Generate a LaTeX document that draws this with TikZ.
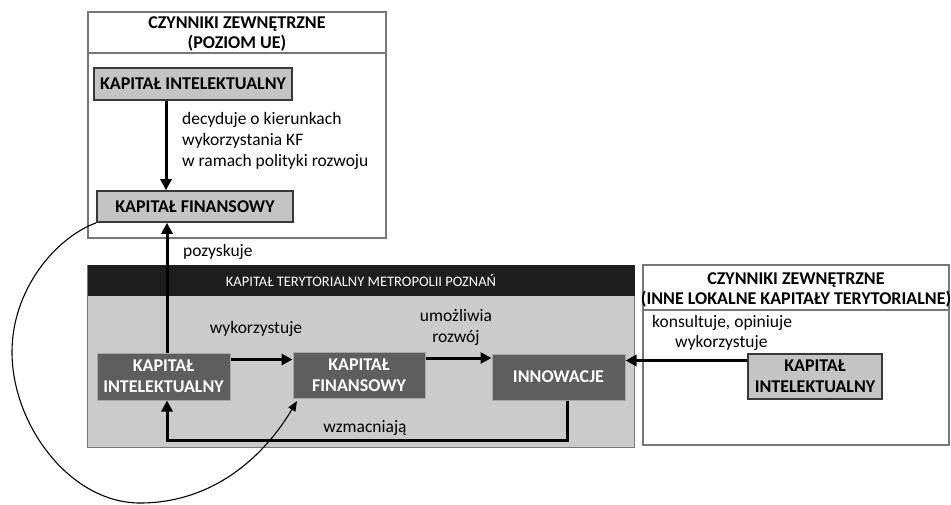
\documentclass[tikz,border=0pt]{standalone}
\usepackage{fontspec}
\setmainfont{Carlito}
\usetikzlibrary{arrows.meta,calc}
\definecolor{lightfill}{HTML}{C4C4C4}
\definecolor{mainfill}{HTML}{CBCBCB}
\definecolor{darkfill}{HTML}{5E5E5E}
\definecolor{bandfill}{HTML}{1E1E1E}
\definecolor{framecol}{HTML}{777777}
\begin{document}
\begin{tikzpicture}[x=1pt,y=-1pt,
  framebox/.style={draw=framecol, line width=1.3pt, inner sep=0pt},
  lightbox/.style={draw=black!78, line width=1.6pt, fill=lightfill, inner sep=0pt, align=center,
    font=\bfseries\fontsize{18}{21}\selectfont},
  darkbox/.style={draw=black!35, line width=1pt, fill=darkfill, text=white, inner sep=0pt, align=center,
    font=\bfseries\fontsize{18}{21}\selectfont},
  headtext/.style={inner sep=0pt, align=center, font=\bfseries\fontsize{18}{20}\selectfont},
  lbl/.style={inner sep=0pt, align=left, font=\fontsize{17.5}{21}\selectfont},
  arr/.style={line width=3pt, -{Triangle[length=11pt,width=11pt]}},
  thinarr/.style={line width=1.1pt, -{Triangle[length=10pt,width=8pt]}}]
\useasboundingbox (0,0) rectangle (951,504);
\fill[white] (0,0) rectangle (951,504);

% top frame (UE)
\node[framebox, minimum width=298pt, minimum height=226pt] (ueBox) at (237,125) {};
\node[framebox, minimum width=298pt, minimum height=41pt] (ueHead) at (237,32.5) {};
\node[headtext] (ueTitle) at (237,34) {CZYNNIKI ZEWNĘTRZNE\\(POZIOM UE)};

% main frame
\node[draw=framecol, line width=1pt, fill=mainfill, minimum width=547pt, minimum height=182pt] (mainBox) at (361,356) {};
\node[fill=bandfill, inner sep=0pt, minimum width=547pt, minimum height=31pt, text=white,
  font=\fontsize{14.5}{16}\selectfont] (mainHead) at (361,280.5) {KAPITAŁ TERYTORIALNY METROPOLII POZNAŃ};

% right frame
\node[framebox, minimum width=306pt, minimum height=180pt] (rightBox) at (796,355) {};
\node[framebox, minimum width=306pt, minimum height=45pt] (rightHead) at (796,287.5) {};
\node[headtext] (rightTitle) at (796,290) {CZYNNIKI ZEWNĘTRZNE\\(INNE LOKALNE KAPITAŁY TERYTORIALNE)};

% boxes
\node[lightbox, minimum width=198pt, minimum height=32pt] (kiTop) at (193,84) {KAPITAŁ INTELEKTUALNY};
\node[lightbox, minimum width=196pt, minimum height=31pt] (kfTop) at (195,206.5) {KAPITAŁ FINANSOWY};
\node[darkbox, minimum width=133pt, minimum height=47pt] (kiMain) at (163.5,376.5) {KAPITAŁ\\INTELEKTUALNY};
\node[darkbox, minimum width=132pt, minimum height=46pt] (kfMain) at (359,375) {KAPITAŁ\\FINANSOWY};
\node[darkbox, minimum width=133pt, minimum height=46pt] (inn) at (558.5,377) {INNOWACJE};
\node[lightbox, minimum width=134pt, minimum height=45pt, line width=1.3pt] (kiRight) at (815,376.5) {KAPITAŁ\\INTELEKTUALNY};

% labels
\node[lbl, anchor=north west] (lDec) at (182,112) {decyduje o kierunkach\\wykorzystania KF\\w ramach polityki rozwoju};
\node[lbl, anchor=west] (lPoz) at (183,252) {pozyskuje};
\node[lbl] (lWyk) at (256,329) {wykorzystuje};
\node[lbl, align=center] (lUmo) at (456,327) {umożliwia\\rozwój};
\node[lbl] (lWzm) at (365,428) {wzmacniają};
\node[lbl, anchor=west] (lKon) at (652,323) {konsultuje, opiniuje};
\node[lbl, anchor=west] (lWyk2) at (675,343) {wykorzystuje};

% connectors
\draw[arr] ([xshift=-27pt]kiTop.south) -- ([xshift=-29pt]kfTop.north);
\draw[arr] ([xshift=3.5pt]kiMain.north) -- ([xshift=3.5pt]kiMain.north |- kfTop.south);
\draw[arr] ([yshift=17pt]kiMain.east) -- ([yshift=17pt]kiMain.east -| kfMain.west);
\draw[arr] ([yshift=17pt]kfMain.east) -- ([yshift=17pt]kfMain.east -| inn.west);
\draw[arr] ([yshift=16pt]kiRight.west) -- ([yshift=16pt]kiRight.west -| inn.east);
\draw[arr] ([xshift=8.5pt]inn.south) -- ++(0,40) -| ([xshift=3.5pt]kiMain.south);

\coordinate (cEnd) at (297,401);
\draw[thinarr] (kfTop.south west) .. controls (55,238) and (12,290) .. (12,352)
  .. controls (12,425) and (70,503) .. (140,503)
  .. controls (205,503) and (258,466) .. (cEnd);
\end{tikzpicture}
\end{document}
